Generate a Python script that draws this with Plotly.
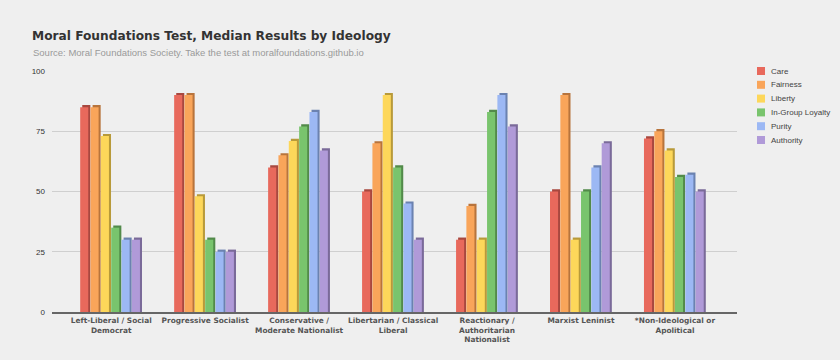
import plotly.graph_objects as go

categories = [
    "Left-Liberal / Social<br>Democrat",
    "Progressive Socialist",
    "Conservative /<br>Moderate Nationalist",
    "Libertarian / Classical<br>Liberal",
    "Reactionary /<br>Authoritarian<br>Nationalist",
    "Marxist Leninist",
    "*Non-Ideological or<br>Apolitical",
]
series_names = ["Care", "Fairness", "Liberty", "In-Group Loyalty", "Purity", "Authority"]
care = [85, 90, 60, 50, 30, 50, 72]
fairness = [85, 90, 65, 70, 44, 90, 75]
liberty = [73, 48, 71, 90, 30, 30, 67]
ingroup = [35, 30, 77, 60, 83, 50, 56]
purity = [30, 25, 83, 45, 90, 60, 57]
authority = [30, 25, 67, 30, 77, 70, 50]
values = [care, fairness, liberty, ingroup, purity, authority]
y_ticks = [0, 25, 50, 75, 100]

colors = ["#e8695c", "#f9a55a", "#fdd75a", "#79c46d", "#9cb8f4", "#b09ad8"]
dark = ["#a8483f", "#b8743c", "#b89a3a", "#528a4a", "#6b82b0", "#7a6a99"]

slot = 0.11
face = 0.086
start = -0.33
depth_dx = 0.022

W, H = 840, 360
ML, MR, MT, MB = 52, 103, 71, 48
PW, PH = W - ML - MR, H - MT - MB

fig = go.Figure()
for i, (name, vals) in enumerate(zip(series_names, values)):
    fig.add_trace(go.Bar(
        x=categories, y=[v + 0.9 for v in vals], name=name + " side",
        marker=dict(color=dark[i], line=dict(width=0)),
        width=face, offset=start + i * slot + depth_dx,
        showlegend=False, hoverinfo="skip",
    ))
for i, (name, vals) in enumerate(zip(series_names, values)):
    fig.add_trace(go.Bar(
        x=categories, y=vals, name=name,
        marker=dict(color=colors[i], line=dict(width=0)),
        width=face, offset=start + i * slot, showlegend=False,
    ))

# custom legend (compact spacing)
shapes, annots = [], []
for i, name in enumerate(series_names):
    cy = 71 + i * 13.8
    y_p = 1 - (cy - MT) / PH
    x0 = (757 - ML) / PW
    x1 = (765 - ML) / PW
    shapes.append(dict(type="rect", xref="paper", yref="paper",
                       x0=x0, x1=x1, y0=y_p - 4 / PH, y1=y_p + 4 / PH,
                       fillcolor=colors[i], line=dict(width=0)))
    annots.append(dict(text=name, xref="paper", yref="paper", x=(769 - ML) / PW, y=y_p,
                       xanchor="left", yanchor="middle", showarrow=False,
                       font=dict(size=8, color="#444")))
annots.append(dict(
    text="Source: Moral Foundations Society. Take the test at moralfoundations.github.io",
    xref="paper", yref="paper", x=(31 - ML) / PW, y=1 + (MT - 52) / PH,
    xanchor="left", yanchor="middle", showarrow=False,
    font=dict(size=9.5, color="#9a9a9a")))

fig.update_layout(
    width=W, height=H,
    barmode="overlay",
    paper_bgcolor="#efefef", plot_bgcolor="#efefef",
    margin=dict(l=ML, r=MR, t=MT, b=MB),
    font=dict(family="Liberation Sans, Arial, sans-serif", color="#333"),
    title=dict(
        text="<b>Moral Foundations Test, Median Results by Ideology</b>",
        x=32 / W, xanchor="left", y=1 - 36 / H, yanchor="middle",
        font=dict(size=12.2, color="#333", family="DejaVu Sans, sans-serif"),
    ),
    shapes=shapes, annotations=annots,
    showlegend=False,
)
fig.update_xaxes(
    range=[-0.63, 6.66], showgrid=False, showline=True, linecolor="#666", linewidth=2,
    tickfont=dict(size=7.4, color="#555", family="DejaVu Sans, sans-serif"),
    tickangle=0, ticks="", automargin=False,
    ticktext=["<b>" + c + "</b>" for c in categories], tickvals=categories,
)
fig.update_yaxes(
    range=[0, 100], tickvals=y_ticks, showgrid=True, gridcolor="#cfcfcf", gridwidth=1,
    zeroline=False, tickfont=dict(size=8, color="#333"), ticklabelstandoff=6,
    automargin=False,
)

fig.write_html("out.html", config={"displayModeBar": False},
               post_script="document.body.style.margin='0';document.body.style.background='#efefef';")
